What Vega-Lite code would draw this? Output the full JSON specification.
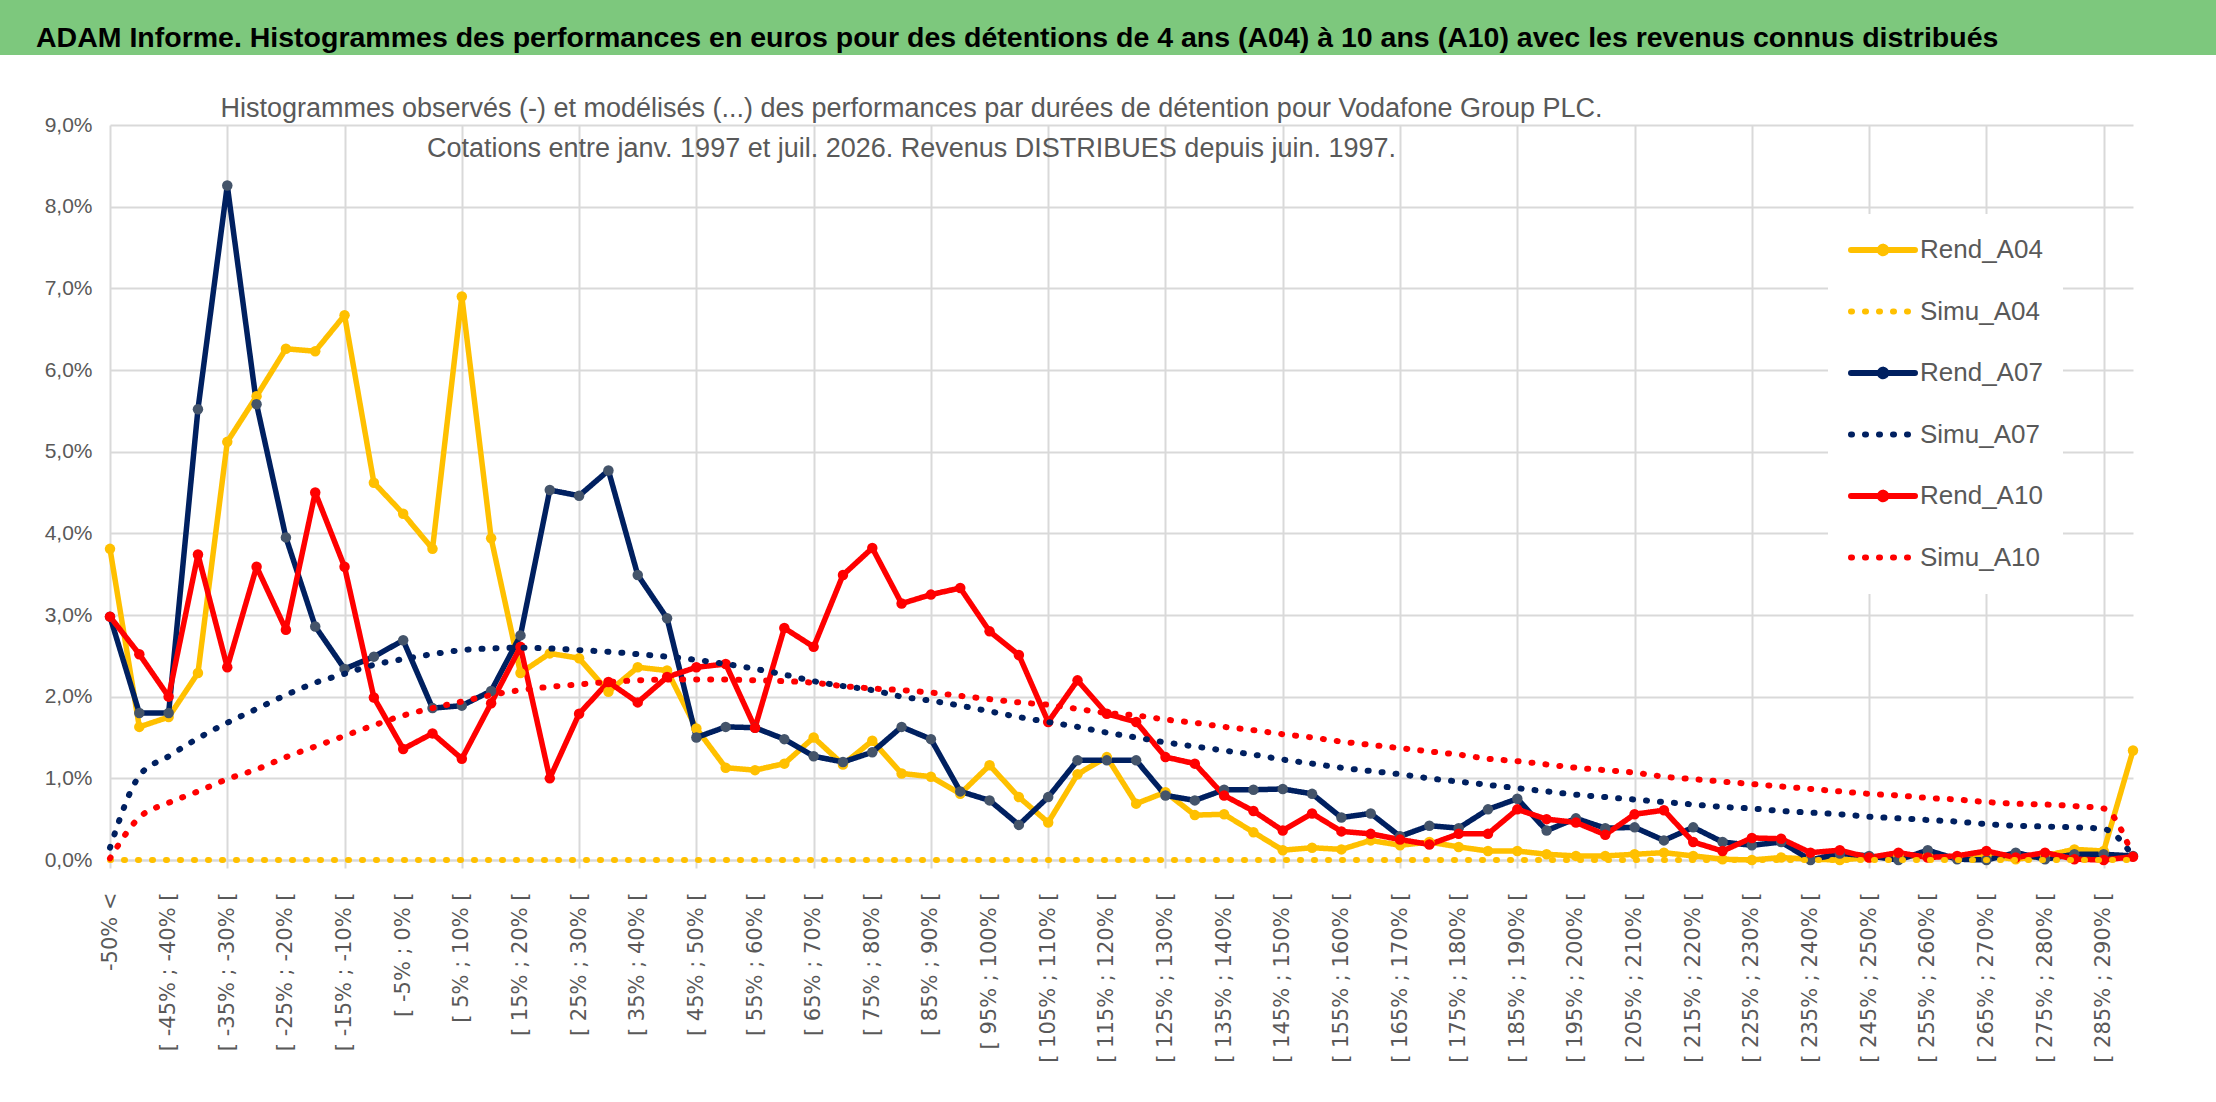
{
  "$schema": "https://vega.github.io/schema/vega-lite/v6.json",
  "background": "white",
  "padding": 0,
  "spacing": 0,
  "vconcat": [
    {
      "width": 2216,
      "height": 55,
      "view": {"fill": "#7DC87D", "stroke": null},
      "data": {"values": [{}]},
      "mark": {"type": "text"},
      "title": {
        "text": "ADAM Informe. Histogrammes des performances en euros pour des détentions de 4 ans (A04) à 10 ans (A10) avec les revenus connus distribués",
        "orient": "top",
        "anchor": "start",
        "frame": "group",
        "dx": 36,
        "offset": -75,
        "baseline": "alphabetic",
        "font": "Liberation Sans",
        "fontSize": 28.5,
        "fontWeight": "bold",
        "color": "#000000"
      }
    },
    {
      "spacing": 0,
      "hconcat": [
        {
          "width": 1,
          "height": 1,
          "view": {"stroke": null},
          "data": {"values": [{}]},
          "mark": {"type": "text"}
        },
        {
          "width": 2023,
          "height": 735,
          "view": {"stroke": null},
          "title": {
            "text": [
              "Histogrammes observés (-) et modélisés (...) des performances par durées de détention pour Vodafone Group PLC.",
              "Cotations entre janv. 1997 et juil. 2026. Revenus DISTRIBUES depuis juin. 1997."
            ],
            "orient": "top",
            "anchor": "middle",
            "frame": "group",
            "dx": -210,
            "offset": -135,
            "baseline": "bottom",
            "lineHeight": 40,
            "font": "Liberation Sans",
            "fontSize": 27,
            "fontWeight": "normal",
            "color": "#595959"
          },
          "data": {
            "values": [
              {"c": "-50% <", "Rend_A04": 3.81, "Simu_A04": 0, "Rend_A07": 2.98, "Simu_A07": 0.15, "Rend_A10": 2.98, "Simu_A10": 0.02},
              {"c": "[ -50% ; -45% [", "Rend_A04": 1.63, "Simu_A04": 0, "Rend_A07": 1.80, "Simu_A07": 1.03, "Rend_A10": 2.52, "Simu_A10": 0.52},
              {"c": "[ -45% ; -40% [", "Rend_A04": 1.75, "Simu_A04": 0, "Rend_A07": 1.80, "Simu_A07": 1.27, "Rend_A10": 2.00, "Simu_A10": 0.70},
              {"c": "[ -40% ; -35% [", "Rend_A04": 2.29, "Simu_A04": 0, "Rend_A07": 5.52, "Simu_A07": 1.49, "Rend_A10": 3.74, "Simu_A10": 0.84},
              {"c": "[ -35% ; -30% [", "Rend_A04": 5.12, "Simu_A04": 0, "Rend_A07": 8.26, "Simu_A07": 1.68, "Rend_A10": 2.36, "Simu_A10": 0.99},
              {"c": "[ -30% ; -25% [", "Rend_A04": 5.68, "Simu_A04": 0, "Rend_A07": 5.58, "Simu_A07": 1.85, "Rend_A10": 3.59, "Simu_A10": 1.11},
              {"c": "[ -25% ; -20% [", "Rend_A04": 6.26, "Simu_A04": 0, "Rend_A07": 3.95, "Simu_A07": 2.02, "Rend_A10": 2.82, "Simu_A10": 1.26},
              {"c": "[ -20% ; -15% [", "Rend_A04": 6.23, "Simu_A04": 0, "Rend_A07": 2.86, "Simu_A07": 2.17, "Rend_A10": 4.50, "Simu_A10": 1.39},
              {"c": "[ -15% ; -10% [", "Rend_A04": 6.67, "Simu_A04": 0, "Rend_A07": 2.34, "Simu_A07": 2.28, "Rend_A10": 3.59, "Simu_A10": 1.52},
              {"c": "[ -10% ; -5% [", "Rend_A04": 4.62, "Simu_A04": 0, "Rend_A07": 2.49, "Simu_A07": 2.39, "Rend_A10": 1.99, "Simu_A10": 1.65},
              {"c": "[ -5% ; 0% [", "Rend_A04": 4.24, "Simu_A04": 0, "Rend_A07": 2.69, "Simu_A07": 2.46, "Rend_A10": 1.36, "Simu_A10": 1.77},
              {"c": "[ 0% ; 5% [", "Rend_A04": 3.81, "Simu_A04": 0, "Rend_A07": 1.86, "Simu_A07": 2.52, "Rend_A10": 1.55, "Simu_A10": 1.86},
              {"c": "[ 5% ; 10% [", "Rend_A04": 6.90, "Simu_A04": 0, "Rend_A07": 1.89, "Simu_A07": 2.57, "Rend_A10": 1.24, "Simu_A10": 1.94},
              {"c": "[ 10% ; 15% [", "Rend_A04": 3.94, "Simu_A04": 0, "Rend_A07": 2.07, "Simu_A07": 2.59, "Rend_A10": 1.92, "Simu_A10": 2.02},
              {"c": "[ 15% ; 20% [", "Rend_A04": 2.29, "Simu_A04": 0, "Rend_A07": 2.75, "Simu_A07": 2.60, "Rend_A10": 2.61, "Simu_A10": 2.08},
              {"c": "[ 20% ; 25% [", "Rend_A04": 2.53, "Simu_A04": 0, "Rend_A07": 4.53, "Simu_A07": 2.59, "Rend_A10": 1.00, "Simu_A10": 2.12},
              {"c": "[ 25% ; 30% [", "Rend_A04": 2.47, "Simu_A04": 0, "Rend_A07": 4.46, "Simu_A07": 2.57, "Rend_A10": 1.79, "Simu_A10": 2.15},
              {"c": "[ 30% ; 35% [", "Rend_A04": 2.06, "Simu_A04": 0, "Rend_A07": 4.77, "Simu_A07": 2.55, "Rend_A10": 2.18, "Simu_A10": 2.18},
              {"c": "[ 35% ; 40% [", "Rend_A04": 2.36, "Simu_A04": 0, "Rend_A07": 3.49, "Simu_A07": 2.52, "Rend_A10": 1.93, "Simu_A10": 2.20},
              {"c": "[ 40% ; 45% [", "Rend_A04": 2.32, "Simu_A04": 0, "Rend_A07": 2.96, "Simu_A07": 2.49, "Rend_A10": 2.24, "Simu_A10": 2.21},
              {"c": "[ 45% ; 50% [", "Rend_A04": 1.61, "Simu_A04": 0, "Rend_A07": 1.50, "Simu_A07": 2.45, "Rend_A10": 2.36, "Simu_A10": 2.21},
              {"c": "[ 50% ; 55% [", "Rend_A04": 1.13, "Simu_A04": 0, "Rend_A07": 1.63, "Simu_A07": 2.40, "Rend_A10": 2.40, "Simu_A10": 2.21},
              {"c": "[ 55% ; 60% [", "Rend_A04": 1.10, "Simu_A04": 0, "Rend_A07": 1.62, "Simu_A07": 2.34, "Rend_A10": 1.62, "Simu_A10": 2.20},
              {"c": "[ 60% ; 65% [", "Rend_A04": 1.18, "Simu_A04": 0, "Rend_A07": 1.48, "Simu_A07": 2.27, "Rend_A10": 2.84, "Simu_A10": 2.19},
              {"c": "[ 65% ; 70% [", "Rend_A04": 1.50, "Simu_A04": 0, "Rend_A07": 1.27, "Simu_A07": 2.19, "Rend_A10": 2.61, "Simu_A10": 2.17},
              {"c": "[ 70% ; 75% [", "Rend_A04": 1.17, "Simu_A04": 0, "Rend_A07": 1.20, "Simu_A07": 2.13, "Rend_A10": 3.49, "Simu_A10": 2.13},
              {"c": "[ 75% ; 80% [", "Rend_A04": 1.46, "Simu_A04": 0, "Rend_A07": 1.32, "Simu_A07": 2.08, "Rend_A10": 3.82, "Simu_A10": 2.10},
              {"c": "[ 80% ; 85% [", "Rend_A04": 1.06, "Simu_A04": 0, "Rend_A07": 1.63, "Simu_A07": 2.00, "Rend_A10": 3.14, "Simu_A10": 2.08},
              {"c": "[ 85% ; 90% [", "Rend_A04": 1.02, "Simu_A04": 0, "Rend_A07": 1.48, "Simu_A07": 1.95, "Rend_A10": 3.25, "Simu_A10": 2.05},
              {"c": "[ 90% ; 95% [", "Rend_A04": 0.81, "Simu_A04": 0, "Rend_A07": 0.84, "Simu_A07": 1.89, "Rend_A10": 3.33, "Simu_A10": 2.01},
              {"c": "[ 95% ; 100% [", "Rend_A04": 1.16, "Simu_A04": 0, "Rend_A07": 0.73, "Simu_A07": 1.82, "Rend_A10": 2.80, "Simu_A10": 1.97},
              {"c": "[ 100% ; 105% [", "Rend_A04": 0.77, "Simu_A04": 0, "Rend_A07": 0.43, "Simu_A07": 1.75, "Rend_A10": 2.51, "Simu_A10": 1.93},
              {"c": "[ 105% ; 110% [", "Rend_A04": 0.46, "Simu_A04": 0, "Rend_A07": 0.77, "Simu_A07": 1.69, "Rend_A10": 1.69, "Simu_A10": 1.90},
              {"c": "[ 110% ; 115% [", "Rend_A04": 1.05, "Simu_A04": 0, "Rend_A07": 1.22, "Simu_A07": 1.63, "Rend_A10": 2.20, "Simu_A10": 1.85},
              {"c": "[ 115% ; 120% [", "Rend_A04": 1.26, "Simu_A04": 0, "Rend_A07": 1.22, "Simu_A07": 1.56, "Rend_A10": 1.79, "Simu_A10": 1.80},
              {"c": "[ 120% ; 125% [", "Rend_A04": 0.69, "Simu_A04": 0, "Rend_A07": 1.22, "Simu_A07": 1.50, "Rend_A10": 1.69, "Simu_A10": 1.77},
              {"c": "[ 125% ; 130% [", "Rend_A04": 0.83, "Simu_A04": 0, "Rend_A07": 0.79, "Simu_A07": 1.44, "Rend_A10": 1.26, "Simu_A10": 1.72},
              {"c": "[ 130% ; 135% [", "Rend_A04": 0.55, "Simu_A04": 0, "Rend_A07": 0.73, "Simu_A07": 1.39, "Rend_A10": 1.18, "Simu_A10": 1.68},
              {"c": "[ 135% ; 140% [", "Rend_A04": 0.56, "Simu_A04": 0, "Rend_A07": 0.86, "Simu_A07": 1.34, "Rend_A10": 0.79, "Simu_A10": 1.63},
              {"c": "[ 140% ; 145% [", "Rend_A04": 0.34, "Simu_A04": 0, "Rend_A07": 0.86, "Simu_A07": 1.29, "Rend_A10": 0.60, "Simu_A10": 1.59},
              {"c": "[ 145% ; 150% [", "Rend_A04": 0.12, "Simu_A04": 0, "Rend_A07": 0.87, "Simu_A07": 1.23, "Rend_A10": 0.36, "Simu_A10": 1.54},
              {"c": "[ 150% ; 155% [", "Rend_A04": 0.15, "Simu_A04": 0, "Rend_A07": 0.81, "Simu_A07": 1.18, "Rend_A10": 0.57, "Simu_A10": 1.50},
              {"c": "[ 155% ; 160% [", "Rend_A04": 0.13, "Simu_A04": 0, "Rend_A07": 0.52, "Simu_A07": 1.13, "Rend_A10": 0.35, "Simu_A10": 1.45},
              {"c": "[ 160% ; 165% [", "Rend_A04": 0.24, "Simu_A04": 0, "Rend_A07": 0.57, "Simu_A07": 1.09, "Rend_A10": 0.32, "Simu_A10": 1.41},
              {"c": "[ 165% ; 170% [", "Rend_A04": 0.18, "Simu_A04": 0, "Rend_A07": 0.29, "Simu_A07": 1.05, "Rend_A10": 0.25, "Simu_A10": 1.37},
              {"c": "[ 170% ; 175% [", "Rend_A04": 0.22, "Simu_A04": 0, "Rend_A07": 0.42, "Simu_A07": 1.00, "Rend_A10": 0.19, "Simu_A10": 1.33},
              {"c": "[ 175% ; 180% [", "Rend_A04": 0.16, "Simu_A04": 0, "Rend_A07": 0.39, "Simu_A07": 0.96, "Rend_A10": 0.32, "Simu_A10": 1.29},
              {"c": "[ 180% ; 185% [", "Rend_A04": 0.11, "Simu_A04": 0, "Rend_A07": 0.62, "Simu_A07": 0.92, "Rend_A10": 0.32, "Simu_A10": 1.24},
              {"c": "[ 185% ; 190% [", "Rend_A04": 0.11, "Simu_A04": 0, "Rend_A07": 0.75, "Simu_A07": 0.88, "Rend_A10": 0.62, "Simu_A10": 1.21},
              {"c": "[ 190% ; 195% [", "Rend_A04": 0.07, "Simu_A04": 0, "Rend_A07": 0.36, "Simu_A07": 0.84, "Rend_A10": 0.50, "Simu_A10": 1.17},
              {"c": "[ 195% ; 200% [", "Rend_A04": 0.05, "Simu_A04": 0, "Rend_A07": 0.51, "Simu_A07": 0.80, "Rend_A10": 0.46, "Simu_A10": 1.13},
              {"c": "[ 200% ; 205% [", "Rend_A04": 0.05, "Simu_A04": 0, "Rend_A07": 0.39, "Simu_A07": 0.77, "Rend_A10": 0.31, "Simu_A10": 1.10},
              {"c": "[ 205% ; 210% [", "Rend_A04": 0.07, "Simu_A04": 0, "Rend_A07": 0.40, "Simu_A07": 0.74, "Rend_A10": 0.56, "Simu_A10": 1.07},
              {"c": "[ 210% ; 215% [", "Rend_A04": 0.09, "Simu_A04": 0, "Rend_A07": 0.24, "Simu_A07": 0.71, "Rend_A10": 0.61, "Simu_A10": 1.02},
              {"c": "[ 215% ; 220% [", "Rend_A04": 0.05, "Simu_A04": 0, "Rend_A07": 0.40, "Simu_A07": 0.68, "Rend_A10": 0.22, "Simu_A10": 0.99},
              {"c": "[ 220% ; 225% [", "Rend_A04": 0.01, "Simu_A04": 0, "Rend_A07": 0.22, "Simu_A07": 0.65, "Rend_A10": 0.11, "Simu_A10": 0.96},
              {"c": "[ 225% ; 230% [", "Rend_A04": 0.00, "Simu_A04": 0, "Rend_A07": 0.18, "Simu_A07": 0.63, "Rend_A10": 0.27, "Simu_A10": 0.93},
              {"c": "[ 230% ; 235% [", "Rend_A04": 0.03, "Simu_A04": 0, "Rend_A07": 0.22, "Simu_A07": 0.60, "Rend_A10": 0.26, "Simu_A10": 0.90},
              {"c": "[ 235% ; 240% [", "Rend_A04": 0.01, "Simu_A04": 0, "Rend_A07": 0.00, "Simu_A07": 0.58, "Rend_A10": 0.09, "Simu_A10": 0.87},
              {"c": "[ 240% ; 245% [", "Rend_A04": 0.00, "Simu_A04": 0, "Rend_A07": 0.08, "Simu_A07": 0.56, "Rend_A10": 0.12, "Simu_A10": 0.84},
              {"c": "[ 245% ; 250% [", "Rend_A04": 0.03, "Simu_A04": 0, "Rend_A07": 0.05, "Simu_A07": 0.53, "Rend_A10": 0.03, "Simu_A10": 0.81},
              {"c": "[ 250% ; 255% [", "Rend_A04": 0.05, "Simu_A04": 0, "Rend_A07": 0.00, "Simu_A07": 0.51, "Rend_A10": 0.09, "Simu_A10": 0.79},
              {"c": "[ 255% ; 260% [", "Rend_A04": 0.05, "Simu_A04": 0, "Rend_A07": 0.12, "Simu_A07": 0.49, "Rend_A10": 0.03, "Simu_A10": 0.76},
              {"c": "[ 260% ; 265% [", "Rend_A04": 0.03, "Simu_A04": 0, "Rend_A07": 0.01, "Simu_A07": 0.47, "Rend_A10": 0.05, "Simu_A10": 0.74},
              {"c": "[ 265% ; 270% [", "Rend_A04": 0.05, "Simu_A04": 0, "Rend_A07": 0.00, "Simu_A07": 0.44, "Rend_A10": 0.11, "Simu_A10": 0.71},
              {"c": "[ 270% ; 275% [", "Rend_A04": 0.01, "Simu_A04": 0, "Rend_A07": 0.09, "Simu_A07": 0.42, "Rend_A10": 0.03, "Simu_A10": 0.69},
              {"c": "[ 275% ; 280% [", "Rend_A04": 0.05, "Simu_A04": 0, "Rend_A07": 0.01, "Simu_A07": 0.41, "Rend_A10": 0.09, "Simu_A10": 0.68},
              {"c": "[ 280% ; 285% [", "Rend_A04": 0.13, "Simu_A04": 0, "Rend_A07": 0.07, "Simu_A07": 0.40, "Rend_A10": 0.01, "Simu_A10": 0.66},
              {"c": "[ 285% ; 290% [", "Rend_A04": 0.11, "Simu_A04": 0, "Rend_A07": 0.07, "Simu_A07": 0.38, "Rend_A10": 0.00, "Simu_A10": 0.63},
              {"c": "290% >", "Rend_A04": 1.34, "Simu_A04": 0, "Rend_A07": 0.05, "Simu_A07": 0.05, "Rend_A10": 0.04, "Simu_A10": 0.05}
            ]
          },
          "transform": [
            {"fold": ["Rend_A04", "Simu_A04", "Rend_A07", "Simu_A07", "Rend_A10", "Simu_A10"], "as": ["s", "v"]}
          ],
          "encoding": {
            "x": {
              "field": "c",
              "type": "nominal",
              "sort": null,
              "scale": {"padding": 0},
              "axis": {
                "title": null,
                "labelAngle": -90,
                "labelOverlap": false,
                "labelFont": "DejaVu Sans",
                "labelFontSize": 21,
                "labelColor": "#595959",
                "labelPadding": 24,
                "labelExpr": "datum.value == '-50% <' || indexof(datum.value, '5% ;') >= 0 ? datum.value : ''",
                "tickSize": 8,
                "tickWidth": 2,
                "tickColor": {
                  "condition": {"test": "datum.value == '-50% <' || (indexof(datum.value, '[ ') == 0 && (toNumber(slice(datum.value, 2, indexof(datum.value, '%'))) + 35) % 20 == 0)", "value": "#d9d9d9"},
                  "value": "transparent"
                },
                "grid": true,
                "gridWidth": 2,
                "gridColor": {
                  "condition": {"test": "datum.value == '-50% <' || (indexof(datum.value, '[ ') == 0 && (toNumber(slice(datum.value, 2, indexof(datum.value, '%'))) + 35) % 20 == 0)", "value": "#d9d9d9"},
                  "value": "transparent"
                },
                "domainColor": "#d9d9d9",
                "domainWidth": 2
              }
            },
            "y": {
              "field": "v",
              "type": "quantitative",
              "scale": {"domain": [0, 9], "nice": false},
              "axis": {
                "values": [0, 1, 2, 3, 4, 5, 6, 7, 8, 9],
                "labelExpr": "replace(format(datum.value, '.1f'), '.', ',') + '%'",
                "labelFont": "Liberation Sans",
                "labelFontSize": 21,
                "labelColor": "#595959",
                "labelPadding": 18,
                "ticks": false,
                "domain": false,
                "gridColor": "#d9d9d9",
                "gridWidth": 2,
                "title": " ",
                "titleX": -109,
                "titleY": -70,
                "titleAngle": 0,
                "titleAlign": "left",
                "titleBaseline": "top",
                "titleFontSize": 10
              }
            }
          },
          "layer": [
            {
              "transform": [{"filter": "indexof(datum.s, 'Rend') == 0"}],
              "mark": {"type": "line", "strokeWidth": 5.5, "strokeJoin": "round", "strokeCap": "round"},
              "encoding": {
                "color": {
                  "field": "s",
                  "type": "nominal",
                  "scale": {
                    "domain": ["Rend_A04", "Simu_A04", "Rend_A07", "Simu_A07", "Rend_A10", "Simu_A10"],
                    "range": ["#FFC000", "#FFC000", "#002060", "#002060", "#FF0000", "#FF0000"]
                  },
                  "legend": {
                    "title": null,
                    "orient": "none",
                    "legendX": 1828,
                    "legendY": 214,
                    "padding": 20,
                    "fillColor": "white",
                    "symbolType": "stroke",
                    "symbolSize": 4096,
                    "symbolStrokeWidth": 6,
                    "clipHeight": 32,
                    "rowPadding": 29.5,
                    "labelOffset": 2,
                    "labelFont": "Liberation Sans",
                    "labelFontSize": 26,
                    "labelColor": "#595959",
                    "encode": {
                      "symbols": {
                        "update": {
                          "shape": {"signal": "indexof(datum.value, 'Rend') == 0 ? 'M-1,0H1M-0.1,0A0.1,0.1,0,1,0,0.1,0A0.1,0.1,0,1,0,-0.1,0Z' : 'M-1,0H1'"},
                          "fill": {"signal": "datum.value == 'Rend_A07' ? '#44546A' : scale('color', datum.value)"},
                          "fillOpacity": {"value": 1},
                          "strokeCap": {"value": "round"}
                        }
                      }
                    }
                  }
                },
                "strokeDash": {
                  "field": "s",
                  "type": "nominal",
                  "scale": {
                    "domain": ["Rend_A04", "Simu_A04", "Rend_A07", "Simu_A07", "Rend_A10", "Simu_A10"],
                    "range": [[1, 0], [1, 13], [1, 0], [1, 13], [1, 0], [1, 13]]
                  }
                }
              }
            },
            {
              "transform": [{"filter": "indexof(datum.s, 'Rend') == 0"}],
              "mark": {"type": "point", "filled": true, "size": 110, "opacity": 1, "strokeWidth": 0},
              "encoding": {
                "fill": {
                  "field": "s",
                  "type": "nominal",
                  "scale": {
                    "domain": ["Rend_A04", "Rend_A07", "Rend_A10"],
                    "range": ["#FFC000", "#44546A", "#FF0000"]
                  },
                  "legend": null
                }
              }
            },
            {
              "transform": [{"filter": "indexof(datum.s, 'Simu') == 0"}],
              "mark": {"type": "line", "strokeWidth": 6, "strokeCap": "round", "interpolate": "monotone"},
              "encoding": {
                "color": {"field": "s", "type": "nominal"},
                "strokeDash": {"field": "s", "type": "nominal"}
              }
            }
          ]
        }
      ]
    }
  ],
  "config": {
    "font": "Liberation Sans"
  }
}
